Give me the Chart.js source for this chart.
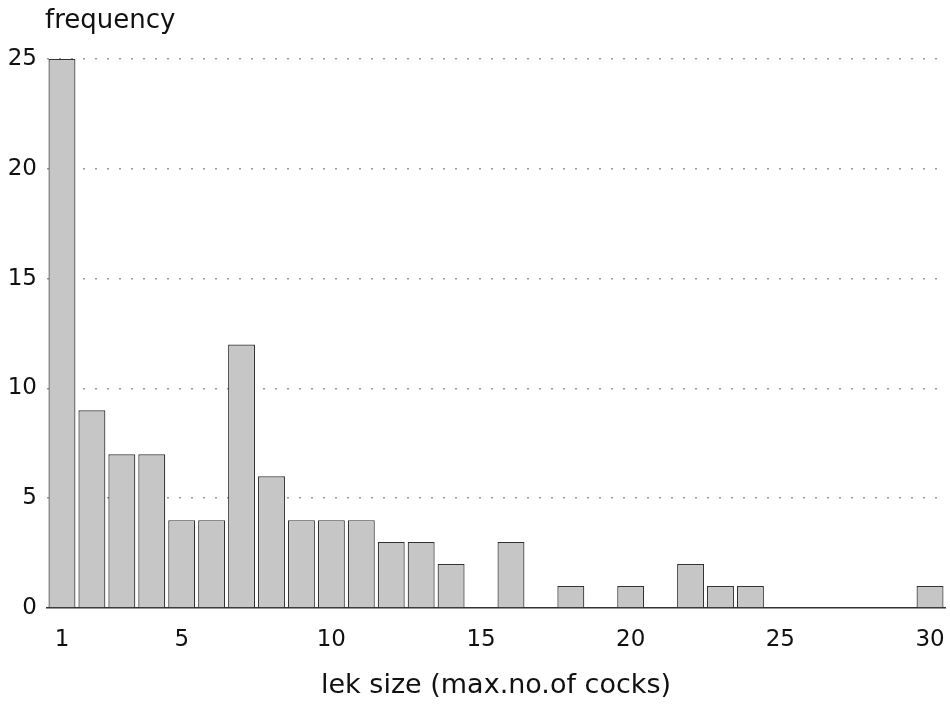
<!DOCTYPE html>
<html>
<head>
<meta charset="utf-8">
<script src="https://cdn.jsdelivr.net/npm/chart.js@4"></script>
<style>
  html, body { margin: 0; padding: 0; background: #fff; }
  #wrap { width: 950px; height: 705px; position: relative; }
</style>
</head>
<body>
<div id="wrap"><canvas id="c" width="950" height="705"></canvas></div>
<script>
// lek size categories 1..30
const categories = ["1","2","3","4","5","6","7","8","9","10","11","12","13","14","15",
                    "16","17","18","19","20","21","22","23","24","25","26","27","28","29","30"];
// frequency per lek size
const frequency = [25, 9, 7, 7, 4, 4, 12, 6, 4, 4, 4, 3, 3, 2, 0,
                   3, 0, 1, 0, 1, 0, 2, 1, 1, 0, 0, 0, 0, 0, 1];
const xTickLabels = ["1", "5", "10", "15", "20", "25", "30"];
const yTicks = [0, 5, 10, 15, 20, 25];
const yTitle = "frequency";
const xTitle = "lek size (max.no.of cocks)";

const FONT = "'DejaVu Sans', sans-serif";

const cornerTitle = {
  id: 'cornerTitle',
  afterDraw(chart) {
    const ctx = chart.ctx;
    ctx.save();
    ctx.fillStyle = '#111';
    ctx.font = "26px " + FONT;
    ctx.textAlign = 'left';
    ctx.textBaseline = 'alphabetic';
    ctx.fillText(yTitle, 45, 28);
    ctx.restore();
  }
};

new Chart(document.getElementById('c'), {
  type: 'bar',
  data: {
    labels: categories,
    datasets: [{
      data: frequency,
      backgroundColor: '#c6c6c6',
      borderColor: '#333',
      borderWidth: 1.2,
      barPercentage: 0.9,
      categoryPercentage: 1.0
    }]
  },
  options: {
    responsive: false,
    animation: false,
    layout: { padding: { top: 59, right: 5, left: 0, bottom: 0 } },
    plugins: { legend: { display: false }, tooltip: { enabled: false }, title: { display: false } },
    scales: {
      x: {
        type: 'category',
        offset: true,
        grid: { display: false, drawTicks: false },
        border: { display: true, color: '#333', width: 1.5 },
        afterFit(scale) { scale.height = 97; scale.paddingLeft = 0; scale.paddingRight = 0; },
        ticks: {
          autoSkip: false,
          maxRotation: 0,
          padding: 18,
          color: '#111',
          font: { family: FONT, size: 23 },
          callback(v, i) {
            const lab = categories[i];
            return xTickLabels.includes(lab) ? lab : '';
          }
        },
        title: {
          display: true,
          text: xTitle,
          color: '#111',
          font: { family: FONT, size: 27 },
          padding: { top: 0, bottom: 3 }
        }
      },
      y: {
        min: 0,
        max: 25,
        afterFit(scale) { scale.width = 47; scale.paddingTop = 0; scale.paddingBottom = 0; },
        afterBuildTicks(scale) { scale.ticks = yTicks.map(v => ({ value: v })); },
        grid: {
          drawTicks: false,
          color(ctx) { return ctx.tick && ctx.tick.value === 0 ? 'rgba(0,0,0,0)' : '#9a9a9a'; },
          lineWidth: 1.5
        },
        border: { display: false, dash: [2, 10] },
        ticks: {
          padding: 10,
          color: '#111',
          font: { family: FONT, size: 23 }
        }
      }
    }
  },
  plugins: [cornerTitle]
});
</script>
</body>
</html>
